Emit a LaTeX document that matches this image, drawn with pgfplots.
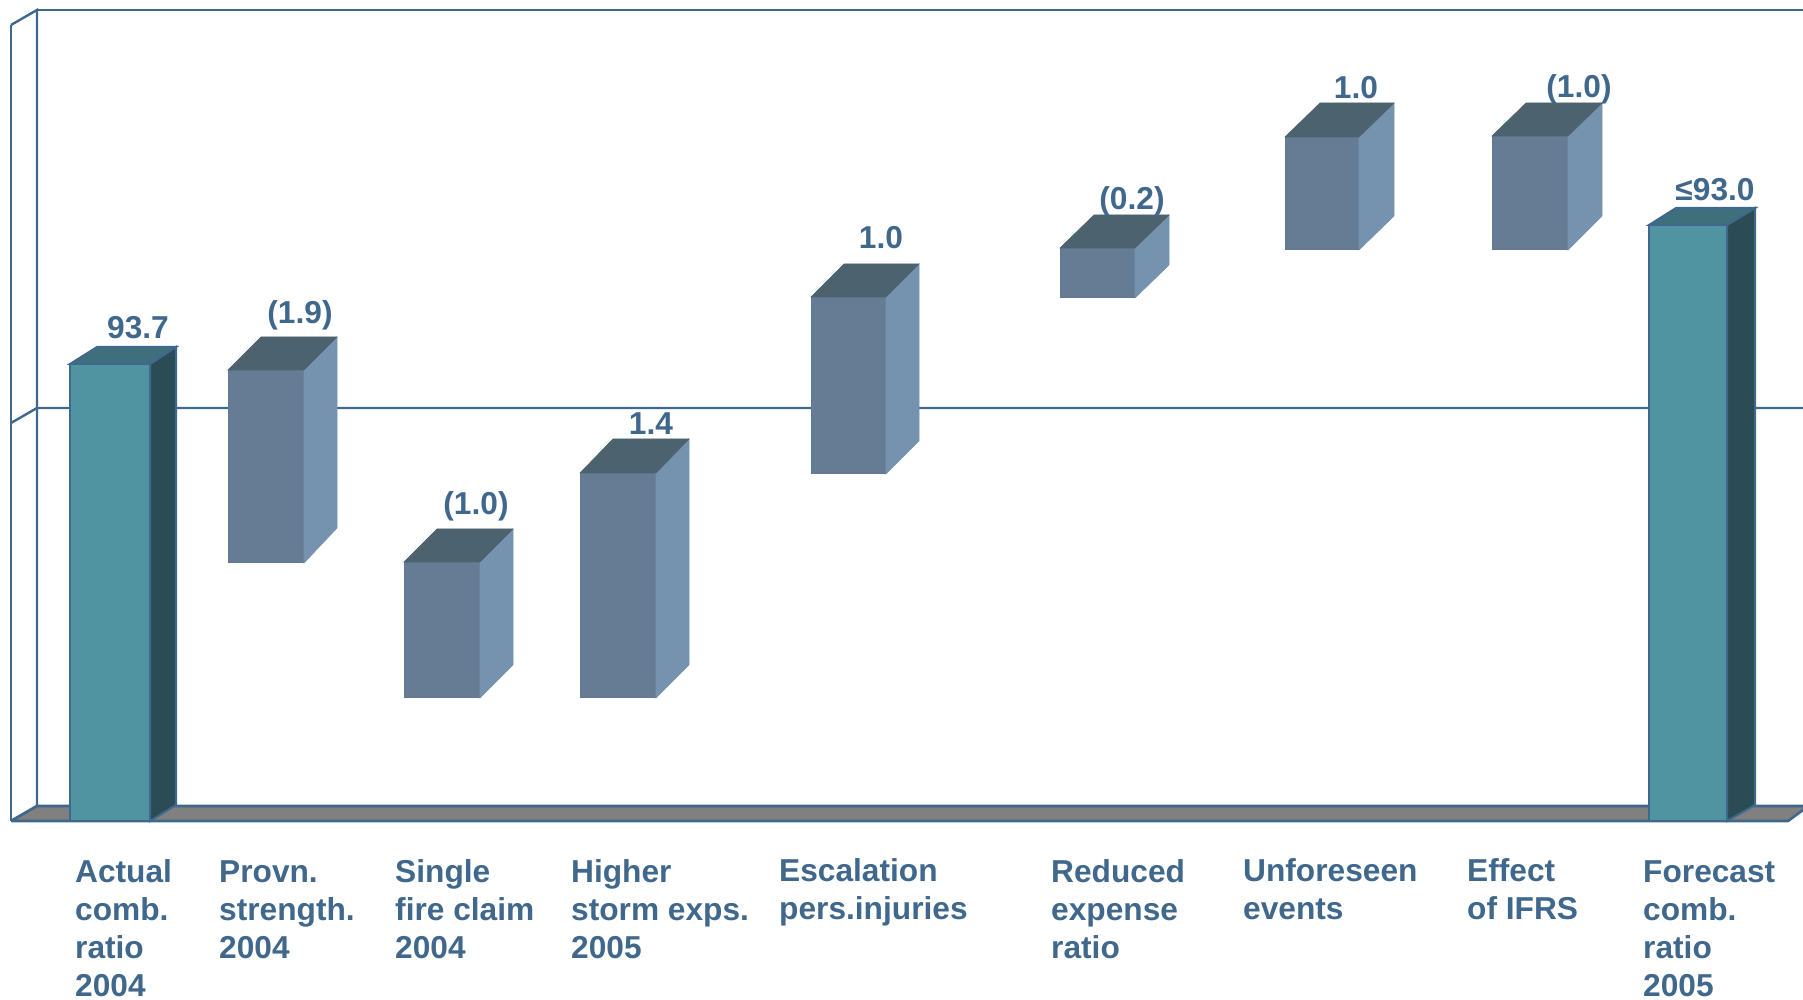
\documentclass[border=0pt]{standalone}
\usepackage{fontspec}
\setmainfont{Liberation Sans}
\usepackage{pgfplots}
\pgfplotsset{compat=1.18}

\definecolor{inkblue}{HTML}{40688C}
\definecolor{tealfront}{HTML}{5094A2}
\definecolor{tealside}{HTML}{2B4C54}
\definecolor{tealtop}{HTML}{3F6E7C}
\definecolor{slatefront}{HTML}{667C94}
\definecolor{slateside}{HTML}{7592AE}
\definecolor{slatetop}{HTML}{4D626F}
\definecolor{slateedge}{HTML}{5F7A95}
\definecolor{floorgrey}{HTML}{808080}

% captions are placed by the baseline of their last line
\tikzset{val/.style={text=inkblue, inner sep=0pt, font=\fontsize{31.8}{38.4}\selectfont\bfseries},
         caption/.style={val, anchor=base west, align=left}}

% One 3-D block: front left, front right, rear right, rear left x;
% front bottom, front top, rear bottom, rear top y
\newcommand{\block}[8]{%
  \addplot[fill=slatefront, draw=slateedge, line width=1bp] coordinates {(#1,#5) (#2,#5) (#2,#6) (#1,#6)} --cycle;
  \addplot[fill=slateside, draw=slateside, line width=0.6bp] coordinates {(#2,#5) (#3,#7) (#3,#8) (#2,#6)} --cycle;
  \addplot[fill=slatetop, draw=slatetop, line width=0.6bp] coordinates {(#1,#6) (#2,#6) (#3,#8) (#4,#8)} --cycle;
}
% The same block for the two end columns
\newcommand{\column}[8]{%
  \addplot[fill=tealfront, draw=inkblue, line width=2bp] coordinates {(#1,#5) (#2,#5) (#2,#6) (#1,#6)} --cycle;
  \addplot[fill=tealside, draw=inkblue, line width=2bp] coordinates {(#2,#5) (#3,#7) (#3,#8) (#2,#6)} --cycle;
  \addplot[fill=tealtop, draw=inkblue, line width=2bp] coordinates {(#1,#6) (#2,#6) (#3,#8) (#4,#8)} --cycle;
}

\begin{document}
\begin{tikzpicture}
\begin{axis}[
  scale only axis, width=1803bp, height=1000bp,
  xmin=0, xmax=1803, ymin=-180, ymax=820,
  hide axis, clip=true,
]
% the page covers the whole plotting area
\path (axis cs:0,-180) rectangle (axis cs:1803,820);

% floor and walls
\addplot[fill=floorgrey, draw=none] coordinates {(11,-1) (37,14) (1803,14) (1803,10) (1788,-1)} --cycle;
\addplot[inkblue, line width=2.6bp] coordinates {(11,-1) (1788,-1) (1803,10)};
\addplot[inkblue, line width=2.8bp] coordinates {(11,-1) (37,14) (1803,14)};
\addplot[inkblue, line width=2.4bp] coordinates {(11,795) (11,-1)};
\addplot[inkblue, line width=2.4bp] coordinates {(11,795) (37,810) (37,14)};
\addplot[inkblue, line width=2.4bp] coordinates {(37,810) (1803,810)};
\addplot[inkblue, line width=2.4bp] coordinates {(11,397) (37,412) (1803,412)};

% start and end columns
\column{70}{150}{176}{97}{-1}{456}{15}{473}
\column{1649}{1727}{1755}{1676}{-1}{595}{15}{612}

% floating blocks
\block{228}{304}{337}{261}{257}{450}{292}{483}
\block{404}{480}{513}{437}{122}{258}{155}{291}
\block{580}{656}{689}{613}{122}{347}{155}{381}
\block{811}{886}{919}{844}{346}{523}{379}{556}
\block{1060}{1135}{1169}{1094}{522}{572}{555}{605}
\block{1285}{1359}{1394}{1320}{570}{683}{604}{717}
\block{1492}{1568}{1602}{1526}{570}{684}{604}{717}

% value labels
\node[val] at (axis cs:138,492) {93.7};
\node[val] at (axis cs:300,505) {(1.9)};
\node[val] at (axis cs:476,314) {(1.0)};
\node[val] at (axis cs:651,396) {1.4};
\node[val] at (axis cs:881,582) {1.0};
\node[val] at (axis cs:1132,619) {(0.2)};
\node[val] at (axis cs:1356,732) {1.0};
\node[val] at (axis cs:1579,731) {(1.0)};
\node[val] at (axis cs:1715,630) {≤93.0};

% category captions
\node[caption] at (axis cs:75,-177) {Actual\\comb.\\ratio\\2004};
\node[caption] at (axis cs:219,-139) {Provn.\\strength.\\2004};
\node[caption] at (axis cs:395,-139) {Single\\fire claim\\2004};
\node[caption] at (axis cs:571,-139) {Higher\\storm exps.\\2005};
\node[caption] at (axis cs:779,-100) {Escalation\\pers.injuries};
\node[caption] at (axis cs:1051,-139) {Reduced\\expense\\ratio};
\node[caption] at (axis cs:1243,-100) {Unforeseen\\events};
\node[caption] at (axis cs:1467,-100) {Effect\\of IFRS};
\node[caption] at (axis cs:1643,-177) {Forecast\\comb.\\ratio\\2005};
\end{axis}
\end{tikzpicture}
\end{document}
